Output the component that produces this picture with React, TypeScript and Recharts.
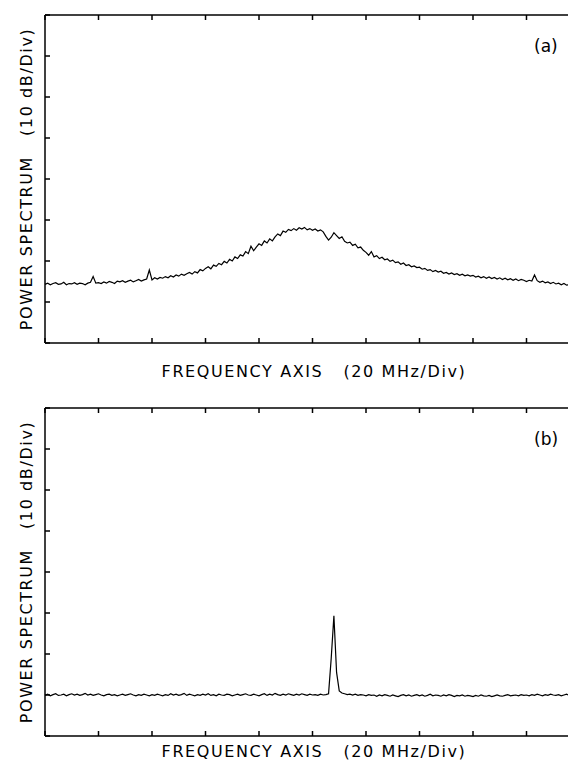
import { LineChart, Line, XAxis, YAxis } from 'recharts';

// frequency in MHz (1 MHz steps), power in dB above the bottom of the frame
const freqStep = 1;
const freqTicks = [0, 20, 40, 60, 80, 100, 120, 140, 160, 180, 200];
const dbTicks = [0, 10, 20, 30, 40, 50, 60, 70, 80];

const spectrumA = [
  14.3, 14.6, 14.2, 14.5, 14.7, 14.3, 14.4, 14.8, 14.2, 14.5, 14.4, 14.7, 14.3, 14.6, 14.5, 14.2, 14.6, 14.8, 16.2, 14.6,
  14.7, 14.5, 14.9, 14.6, 15.0, 14.8, 14.5, 15.1, 14.9, 15.2, 14.8, 15.1, 15.3, 14.9, 15.2, 15.5, 15.1, 15.4, 15.6, 17.8,
  15.4, 15.9, 15.6, 16.0, 15.8, 16.2, 15.9, 16.4, 16.1, 16.6, 16.3, 16.8, 16.5, 16.9, 17.2, 16.8, 17.4, 17.1, 17.9, 17.6,
  18.2, 18.6, 18.1, 19.0, 18.7, 19.4, 19.1, 19.9, 19.5, 20.4, 20.0, 21.0, 20.6, 21.5, 21.2, 22.3, 21.8, 23.6, 22.5, 23.4,
  24.2, 23.8, 24.9, 24.4, 25.4, 24.9, 25.9, 26.6, 26.2, 27.3, 27.0, 27.7, 27.4, 27.9, 27.5, 28.1, 27.8, 28.2, 27.6, 27.9,
  27.5, 27.8, 27.3, 27.6, 27.1, 26.0, 25.1, 25.8, 26.9, 26.2, 25.5, 25.9, 24.8, 24.4, 24.6, 23.8, 24.1, 23.2, 23.4, 22.6,
  22.1, 21.4, 22.3, 21.0, 21.3, 20.6, 20.9, 20.3, 20.5, 19.9, 20.2, 19.6, 19.8, 19.2, 19.5, 18.9, 19.1, 18.6, 18.8, 18.4,
  18.5, 18.0, 18.2, 17.7, 17.9, 17.4, 17.7, 17.3, 17.5, 17.0, 17.2, 16.8, 17.1, 16.7, 16.9, 16.5, 16.8, 16.4, 16.6, 16.3,
  16.5, 16.1, 16.3, 15.9, 16.2, 15.8, 16.1, 15.7, 16.0, 15.6, 15.9, 15.5, 15.8, 15.4, 15.7, 15.3, 15.6, 15.2, 15.5, 15.3,
  15.0, 15.3, 15.1, 16.6, 15.2, 14.8, 15.1, 14.7, 14.9, 14.5, 14.8, 14.4, 14.6, 14.2, 14.5, 14.1, 14.3,
];

const spectrumB = [
  9.9, 10.2, 9.8, 10.1, 10.3, 9.9, 10.0, 10.2, 9.8, 10.1, 10.3, 10.0, 10.2, 9.9, 10.1, 10.4, 10.0, 10.2, 9.9, 10.1,
  10.3, 10.0, 9.8, 10.1, 10.2, 9.9, 10.1, 9.8, 10.0, 10.2, 9.9, 10.1, 10.3, 10.0, 9.8, 10.1, 9.9, 10.2, 10.0, 9.8,
  10.1, 9.9, 10.2, 10.0, 9.8, 10.1, 9.9, 10.3, 10.0, 10.2, 9.9, 10.1, 10.4, 9.9, 10.2, 10.0, 9.8, 10.1, 9.9, 10.2,
  10.0, 10.3, 9.9, 10.1, 9.8, 10.2, 10.0, 9.9, 10.2, 10.1, 9.8, 10.0, 10.2, 9.9, 10.1, 10.3, 10.0, 9.9, 10.2, 10.0,
  9.8, 10.1, 10.3, 9.9, 10.2, 10.0, 10.4, 10.1, 9.9, 10.2, 10.0, 10.3, 10.1, 9.9, 10.2, 10.0, 10.3, 10.1, 9.9, 10.2,
  10.0, 10.1, 9.9, 10.2, 10.0, 10.1, 10.3, 19.0, 29.3, 15.5, 11.0, 10.5, 10.3, 10.1, 10.2, 10.0, 10.2, 9.9, 10.1, 10.0,
  9.8, 10.1, 9.9, 10.0, 9.7, 10.0, 9.8, 10.1, 9.9, 9.7, 10.0, 9.8, 9.6, 9.9, 10.1, 9.8, 10.0, 9.7, 9.9, 10.1,
  9.8, 10.0, 9.7, 9.9, 10.2, 9.8, 10.0, 9.9, 9.7, 10.0, 9.8, 10.1, 9.9, 9.6, 9.9, 9.8, 10.0, 9.7, 9.9, 9.8,
  9.6, 9.9, 9.7, 10.0, 9.8, 9.7, 9.9, 9.6, 9.8, 10.0, 9.8, 9.7, 9.9, 10.1, 9.8, 9.9, 10.0, 9.8, 10.1, 9.9,
  10.0, 9.8, 10.1, 9.9, 10.2, 10.0, 9.8, 10.1, 9.9, 10.2, 10.0, 9.9, 10.1, 9.8, 10.0, 10.2, 9.9,
];

const xLabel = 'FREQUENCY AXIS   (20 MHz/Div)';
const yLabel = 'POWER SPECTRUM   (10 dB/Div)';

const font = '"DejaVu Sans", sans-serif';
const axisStroke = { stroke: '#000', strokeWidth: 1.5 };

function toRows(values: number[]) {
  return values.map((db, i) => ({ f: i * freqStep, db }));
}

// tick marks only, no numbers on this plot
const NoLabel = () => <g />;

function Panel({ values, tag, top, xLabelTop }: { values: number[]; tag: string; top: number; xLabelTop: number }) {
  return (
    <div style={{ position: 'absolute', left: 0, top, width: 600, height: 380 }}>
      <LineChart width={600} height={360} data={toRows(values)} margin={{ top: 15, right: 20, bottom: 17, left: 45 }}>
        <XAxis
          xAxisId="bottom"
          dataKey="f"
          type="number"
          domain={[0, 200]}
          ticks={freqTicks}
          interval={0}
          mirror
          tick={NoLabel}
          tickSize={5}
          tickLine={axisStroke}
          axisLine={axisStroke}
        />
        <XAxis
          xAxisId="top"
          orientation="top"
          dataKey="f"
          type="number"
          domain={[0, 200]}
          ticks={freqTicks}
          interval={0}
          mirror
          tick={NoLabel}
          tickSize={5}
          tickLine={axisStroke}
          axisLine={axisStroke}
        />
        <YAxis
          type="number"
          domain={[0, 80]}
          ticks={dbTicks}
          interval={0}
          mirror
          tick={NoLabel}
          tickSize={5}
          tickLine={axisStroke}
          axisLine={axisStroke}
        />
        <Line
          xAxisId="bottom"
          dataKey="db"
          type="linear"
          stroke="#000"
          strokeWidth={1.2}
          dot={false}
          isAnimationActive={false}
        />
      </LineChart>
      <div
        style={{
          position: 'absolute',
          left: 27 - 200,
          top: 179 - 10,
          width: 400,
          height: 20,
          lineHeight: '20px',
          textAlign: 'center',
          whiteSpace: 'pre',
          fontSize: 16,
          letterSpacing: 1.6,
          transform: 'rotate(-90deg)',
        }}
      >
        {yLabel}
      </div>
      <div
        style={{
          position: 'absolute',
          left: 114,
          top: xLabelTop,
          width: 400,
          height: 20,
          lineHeight: '20px',
          textAlign: 'center',
          whiteSpace: 'pre',
          fontSize: 16,
          letterSpacing: 1.6,
        }}
      >
        {xLabel}
      </div>
      <div style={{ position: 'absolute', left: 534, top: 36, fontSize: 17, lineHeight: '20px' }}>{tag}</div>
    </div>
  );
}

export default function App() {
  return (
    <div
      style={{
        position: 'absolute',
        left: 0,
        top: 0,
        width: 568,
        height: 767,
        overflow: 'hidden',
        background: '#fff',
        color: '#000',
        fontFamily: font,
      }}
    >
      <Panel values={spectrumA} tag="(a)" top={0} xLabelTop={362} />
      <Panel values={spectrumB} tag="(b)" top={393} xLabelTop={349} />
    </div>
  );
}
